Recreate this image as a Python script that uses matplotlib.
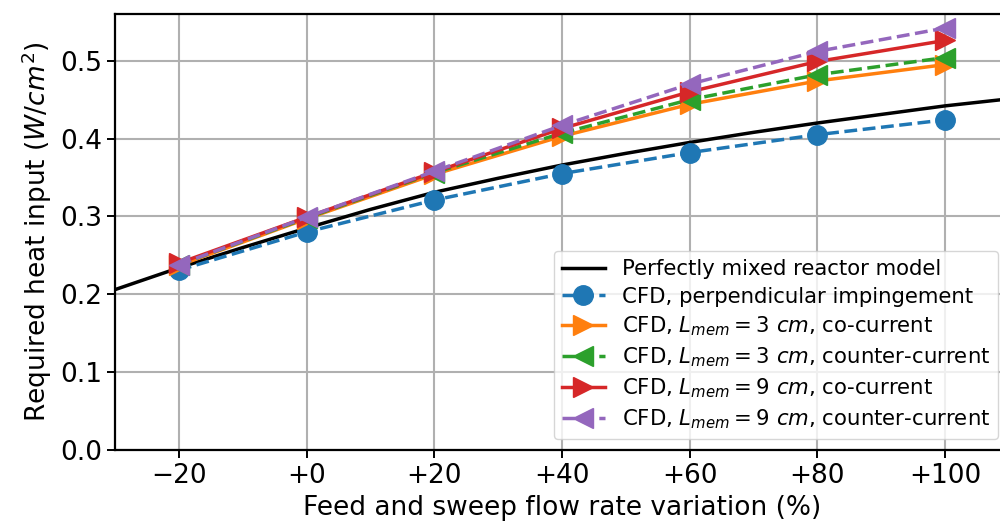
import matplotlib
matplotlib.use("Agg")
import matplotlib.pyplot as plt

# Flow-rate variation (%) at which CFD runs were made
variation = [-20, 0, 20, 40, 60, 80, 100]
tick_labels = ["\u221220", "+0", "+20", "+40", "+60", "+80", "+100"]

# Perfectly mixed reactor model (sampled curve)
model_x = [-30, -20, -10, 0, 10, 20, 30, 40, 50, 60, 70, 80, 90, 100, 110]
model_y = [0.206, 0.234, 0.260, 0.285, 0.309, 0.331, 0.349, 0.366, 0.381, 0.395,
           0.408, 0.420, 0.431, 0.442, 0.451]

# CFD results (W/cm^2)
cfd_perp = [0.231, 0.280, 0.321, 0.355, 0.382, 0.405, 0.424]
cfd_3_co = [0.237, 0.297, 0.354, 0.403, 0.444, 0.474, 0.495]
cfd_3_counter = [0.238, 0.298, 0.356, 0.407, 0.450, 0.482, 0.504]
cfd_9_co = [0.240, 0.299, 0.357, 0.413, 0.460, 0.499, 0.526]
cfd_9_counter = [0.238, 0.299, 0.358, 0.417, 0.470, 0.512, 0.542]

fig = plt.figure(figsize=(10, 5.28), dpi=100)
ax = fig.add_axes([0.115, 0.1477, 0.894, 0.8258])

lw, ms = 2.5, 14
ax.plot(model_x, model_y, color="black", lw=lw, label="Perfectly mixed reactor model")
ax.plot(variation, cfd_perp, color="#1f77b4", ls="--", lw=lw, marker="o", ms=ms,
        label="CFD, perpendicular impingement")
ax.plot(variation, cfd_3_co, color="#ff7f0e", ls="-", lw=lw, marker=">", ms=ms,
        label="CFD, $L_{mem} = 3\\ cm$, co-current")
ax.plot(variation, cfd_3_counter, color="#2ca02c", ls="--", lw=lw, marker="<", ms=ms,
        label="CFD, $L_{mem} = 3\\ cm$, counter-current")
ax.plot(variation, cfd_9_co, color="#d62728", ls="-", lw=lw, marker=">", ms=ms,
        label="CFD, $L_{mem} = 9\\ cm$, co-current")
ax.plot(variation, cfd_9_counter, color="#9467bd", ls="--", lw=lw, marker="<", ms=ms,
        label="CFD, $L_{mem} = 9\\ cm$, counter-current")

ax.set_xlim(-30, 110)
ax.set_ylim(0, 0.56)
ax.set_xticks(variation)
ax.set_xticklabels(tick_labels)
ax.set_yticks([0.0, 0.1, 0.2, 0.3, 0.4, 0.5])
ax.tick_params(labelsize=19, width=1.4, length=6)
ax.grid(True, color="#b0b0b0", lw=1.5)
for s in ax.spines.values():
    s.set_linewidth(1.6)

ax.set_xlabel("Feed and sweep flow rate variation (%)", fontsize=19)
ax.set_ylabel("Required heat input ($W/cm^2$)", fontsize=19)

ax.legend(loc="lower right", fontsize=15.3, handlelength=2.0, borderaxespad=0.5,
          borderpad=0.4, labelspacing=0.35)

fig.savefig("out.png", dpi=100)
